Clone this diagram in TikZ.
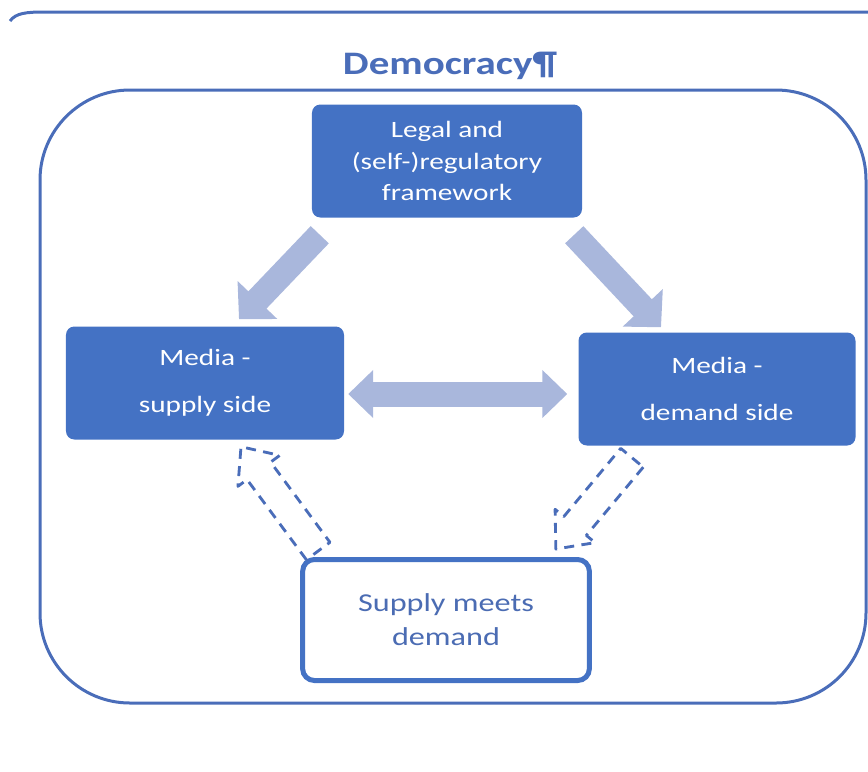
\documentclass[tikz,border=0pt]{standalone}
\usepackage{fontspec}
\setmainfont{Carlito}[FakeStretch=1.25]
\usetikzlibrary{arrows.meta,calc}
\definecolor{boxblue}{HTML}{4472C4}
\definecolor{lineblue}{HTML}{4A6DB9}
\definecolor{paleblue}{HTML}{A9B7DC}
\definecolor{textblue}{HTML}{4B6CB3}
\tikzset{
  mediabox/.style={fill=boxblue, rounded corners=0.25cm, text=white, align=center,
    font=\fontsize{20}{27}\selectfont, minimum height=3.39cm, inner sep=0pt},
  meetbox/.style={draw=boxblue, line width=0.15cm, rounded corners=0.35cm, fill=white,
    text=textblue, align=center, font=\fontsize{22}{29}\selectfont,
    minimum width=8.6cm, minimum height=3.63cm},
  bigarrow/.style={paleblue, line width=0.75cm, -{Triangle[length=0.8cm,width=1.6cm]}},
  twoway/.style={paleblue, line width=0.75cm,
    {Triangle[length=0.75cm,width=1.4cm]}-{Triangle[length=0.75cm,width=1.4cm]}},
  dashblock/.style={draw=lineblue, fill=white, line width=0.085cm,
    dash pattern=on 0.3cm off 0.22cm, line join=round}
}
\newcommand{\hollowarrow}[2]{%
  \coordinate (hb) at ($(#2)!0.9cm!(#1)$);
  \draw[dashblock] ($(#1)!0.44cm!90:(#2)$) -- ($(hb)!0.44cm!90:(#2)$)
    -- ($(hb)!0.78cm!90:(#2)$) -- (#2) -- ($(hb)!0.78cm!-90:(#2)$)
    -- ($(hb)!0.44cm!-90:(#2)$) -- ($(#1)!0.44cm!-90:(#2)$) -- cycle;
}
\begin{document}
\begin{tikzpicture}[x=0.03cm, y=-0.03cm]
  \useasboundingbox (0,0) rectangle (868,771);

  \draw[lineblue, line width=0.09cm] (10,21) .. controls (16,13) and (26,12) .. (45,12) -- (868,12);
  \draw[lineblue, line width=0.09cm, rounded corners=2.7cm] (40,90) rectangle (866,703);

  \node[text=lineblue, font=\fontsize{28}{34}\selectfont\bfseries] (title) at (450,66) {Democracy¶};

  \node[mediabox, minimum width=8.1cm] (legal) at (447,161) {Legal and\\(self-)regulatory\\framework};
  \node[mediabox, minimum width=8.34cm] (supply) at (205,383) {Media -\\[13pt]supply side};
  \node[mediabox, minimum width=8.31cm] (demand) at (717,389) {Media -\\[13pt]demand side};
  \node[meetbox] (meet) at (446,620) {Supply meets\\demand};

  \coordinate (l1) at ($(legal.south west)+(8,17)$);
  \coordinate (l2) at ($(supply.north)+(34,-7)$);
  \draw[bigarrow] (l1) -- (l2);

  \coordinate (r1) at ($(legal.south east)+(-8,17)$);
  \coordinate (r2) at ($(demand.north)+(-56,-5)$);
  \draw[bigarrow] (r1) -- (r2);

  \coordinate (d1) at ($(supply.east)+(4,11)$);
  \coordinate (d2) at ($(demand.west)+(-11,5)$);
  \draw[twoway] (d1) -- (d2);

  \coordinate (st) at ($(meet.north west)+(18,-6)$);
  \coordinate (sh) at ($(supply.south)+(36,7)$);
  \hollowarrow{st}{sh}

  \coordinate (dt) at ($(demand.south)+(-85,12)$);
  \coordinate (dh) at ($(meet.north east)+(-36,-8)$);
  \hollowarrow{dt}{dh}
\end{tikzpicture}
\end{document}
